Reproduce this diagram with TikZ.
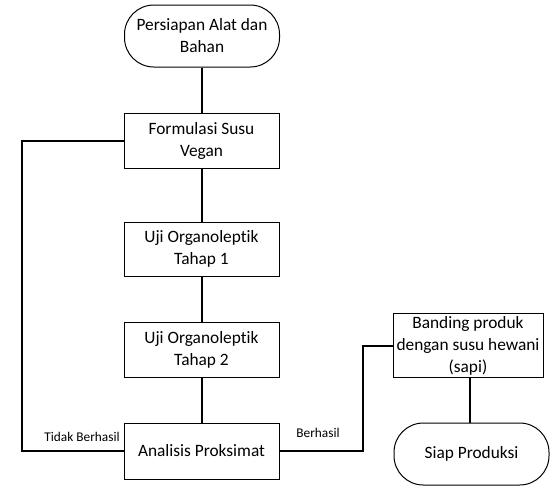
\documentclass[tikz,border=0pt]{standalone}
\usepackage{fontspec}
\setmainfont{Carlito}[Ligatures={NoCommon}]
\begin{document}
\begin{tikzpicture}[x=0.75pt,y=-0.75pt,
  box/.style={draw,line width=0.75pt,minimum width=116.25pt,align=center,inner sep=2pt,font=\fontsize{13}{16.5}\selectfont},
  term/.style={box,rounded corners=22pt},
  conn/.style={line width=1.5pt},
  lbl/.style={font=\fontsize{10}{12}\selectfont,inner sep=0pt}]
\useasboundingbox (0,0) rectangle (560,494);
\node[term,minimum height=46.5pt] (start) at (202,36) {Persiapan Alat dan\\Bahan};
\node[box,minimum height=41.25pt] (form) at (201.5,140.5) {Formulasi Susu\\Vegan};
\node[box,minimum height=40.5pt] (uji1) at (201.5,249) {Uji Organoleptik\\Tahap 1};
\node[box,minimum height=41.25pt] (uji2) at (201.5,349.5) {Uji Organoleptik\\Tahap 2};
\node[box,minimum height=42pt] (anal) at (201.5,451) {Analisis Proksimat};
\node[box,minimum width=112.5pt,minimum height=47.25pt] (band) at (468,345.5) {Banding produk\\dengan susu hewani\\(sapi)};
\node[term,minimum height=46.5pt] (siap) at (471.5,454) {Siap Produksi};
\coordinate (lc) at (22,451);
\coordinate (rc) at (363,451);
\draw[conn] (start.south -| form.north) -- (form.north);
\draw[conn] (form) -- (uji1);
\draw[conn] (uji1) -- (uji2);
\draw[conn] (uji2) -- (anal);
\draw[conn] (anal.west) -- (lc) |- (form.west);
\draw[conn] (anal.east) -- (rc) |- (band.west);
\draw[conn] ([xshift=1.5pt]band.south) -- ([xshift=1.5pt]band.south |- siap.north);
\node[lbl] (tb) at (82,437) {Tidak Berhasil};
\node[lbl] (bh) at (318,433) {Berhasil};
\end{tikzpicture}
\end{document}
